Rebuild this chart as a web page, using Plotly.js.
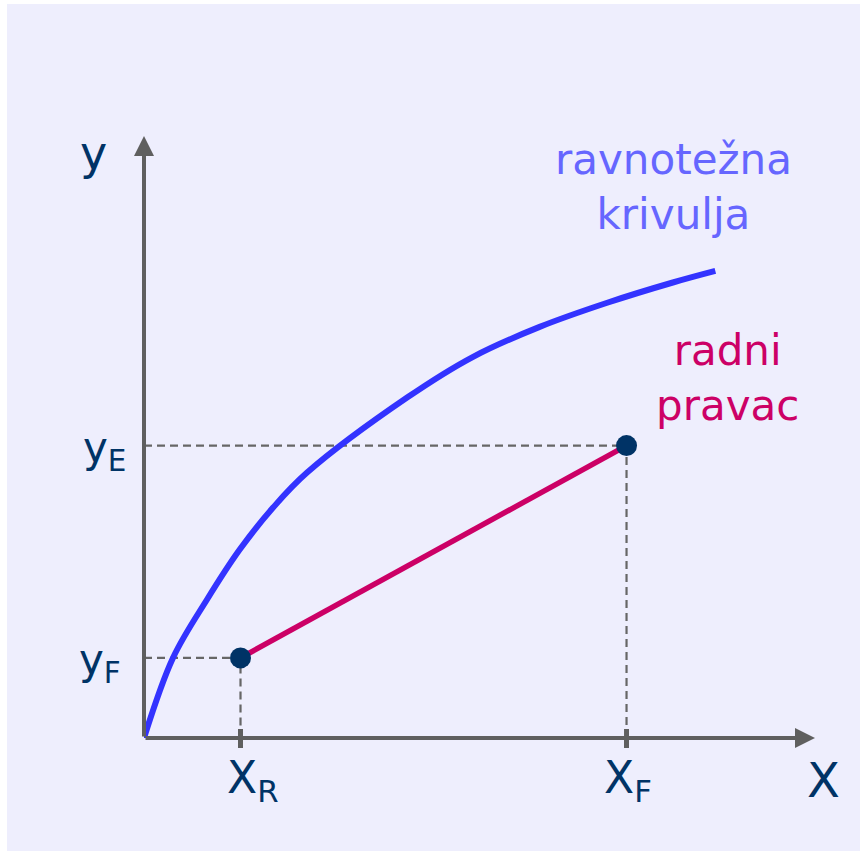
<!DOCTYPE html>
<html>
<head>
<meta charset="utf-8">
<script src="https://cdn.plot.ly/plotly-3.0.1.min.js"></script>
<style>
  html, body { margin: 0; padding: 0; background: #ffffff; }
  #chart { width: 861px; height: 854px; }
</style>
</head>
<body>
<div id="chart"></div>
<script>
// Equilibrium curve (ravnotežna krivulja)
const curveX = [0, 0.030, 0.065, 0.099, 0.134, 0.169, 0.273, 0.341, 0.410, 0.480, 0.548, 0.592];
const curveY = [0, 0.083, 0.143, 0.195, 0.239, 0.275, 0.353, 0.395, 0.426, 0.451, 0.472, 0.484];

// Operating line (radni pravac) end points
const xR = 0.10, yF = 0.083;
const xF = 0.50, yE = 0.303;
const lineX = [xR, xF];
const lineY = [yF, yE];

// Axis extents (arrow tips)
const xEnd = 0.6953;
const yEnd = 0.6238;

// Tick labels
const xTickVals = [xR, xF];
const xTickText = ['X<sub>R</sub>', 'X<sub>F</sub>'];
const yTickVals = [yE, yF];
const yTickText = ['y<sub>E</sub>', 'y<sub>F</sub>'];

const FONT = 'DejaVu Sans, sans-serif';
const NAVY = '#003366';
const AXIS = '#5f5f5f';
const DASH = '#666666';
const BG = '#eeeefd';

const dashStyle = { color: DASH, width: 2.2, dash: '8px,5px' };

const traces = [
  // guide lines from the points to the axes
  { x: [0, xR, xR], y: [yF, yF, 0], mode: 'lines', line: dashStyle, hoverinfo: 'skip' },
  { x: [0, xF, xF], y: [yE, yE, 0], mode: 'lines', line: dashStyle, hoverinfo: 'skip' },
  // equilibrium curve
  { x: curveX, y: curveY, mode: 'lines', line: { color: '#3333ff', width: 6, shape: 'spline', smoothing: 1.0 } },
  // operating line
  { x: lineX, y: lineY, mode: 'lines', line: { color: '#cc0066', width: 5.5 } },
  // end points
  { x: lineX, y: lineY, mode: 'markers', marker: { color: NAVY, size: 21 }, cliponaxis: false }
];

const label = (x, y, xshift, yshift, text, size, color) => ({
  x: x, y: y, xref: 'x', yref: 'y', xshift: xshift, yshift: yshift, text: text,
  showarrow: false, align: 'center', font: { family: FONT, size: size, color: color }
});

const arrow = (x, y) => ({
  x: x, y: y, ax: 0, ay: 0, xref: 'x', yref: 'y', axref: 'x', ayref: 'y', text: '',
  showarrow: true, arrowhead: 2, arrowsize: 1.0, arrowwidth: 4, arrowcolor: AXIS, standoff: 0
});

const annotations = [
  // axes with arrow heads
  arrow(xEnd, 0),
  arrow(0, yEnd),
  // axis names
  label(0, yEnd, -51, -17, 'y', 46, NAVY),
  label(xEnd, 0, 8, -42, 'X', 48, NAVY),
  // tick labels
  label(xTickVals[0], 0, 12, -42, xTickText[0], 44, NAVY),
  label(xTickVals[1], 0, 1, -42, xTickText[1], 44, NAVY),
  label(0, yTickVals[0], -40, -5, yTickText[0], 42, NAVY),
  label(0, yTickVals[1], -44, -5, yTickText[1], 42, NAVY),
  // curve names
  label(0.549, 0.571, 0, 0, 'ravnotežna<br>krivulja', 42, '#6666ff'),
  label(0.605, 0.373, 0, 0, 'radni<br>pravac', 42, '#cc0066')
];

// background panel and the upper half of the x tick marks
const shapes = [
  { type: 'rect', xref: 'paper', yref: 'paper', x0: -0.2042, x1: 1.0671, y0: -0.1877, y1: 1.2193,
    fillcolor: BG, line: { width: 0 }, layer: 'below' }
].concat(xTickVals.map(v => ({
  type: 'line', xref: 'x', yref: 'y', x0: v, x1: v, ysizemode: 'pixel', yanchor: 0, y0: 0, y1: 9,
  line: { color: AXIS, width: 5 }, layer: 'above'
})));

const layout = {
  width: 861,
  height: 854,
  autosize: false,
  showlegend: false,
  paper_bgcolor: '#ffffff',
  plot_bgcolor: BG,
  margin: { l: 144, r: 46, t: 136, b: 116, pad: 0 },
  xaxis: {
    range: [0, xEnd], showgrid: false, zeroline: false, showline: false,
    tickmode: 'array', tickvals: xTickVals, ticks: 'outside', ticklen: 9, tickwidth: 5,
    tickcolor: AXIS, showticklabels: false, fixedrange: true
  },
  yaxis: {
    range: [0, yEnd], showgrid: false, zeroline: false, showline: false,
    ticks: '', showticklabels: false, fixedrange: true
  },
  shapes: shapes,
  annotations: annotations
};

Plotly.newPlot('chart', traces, layout, { displayModeBar: false, staticPlot: true });
</script>
</body>
</html>
